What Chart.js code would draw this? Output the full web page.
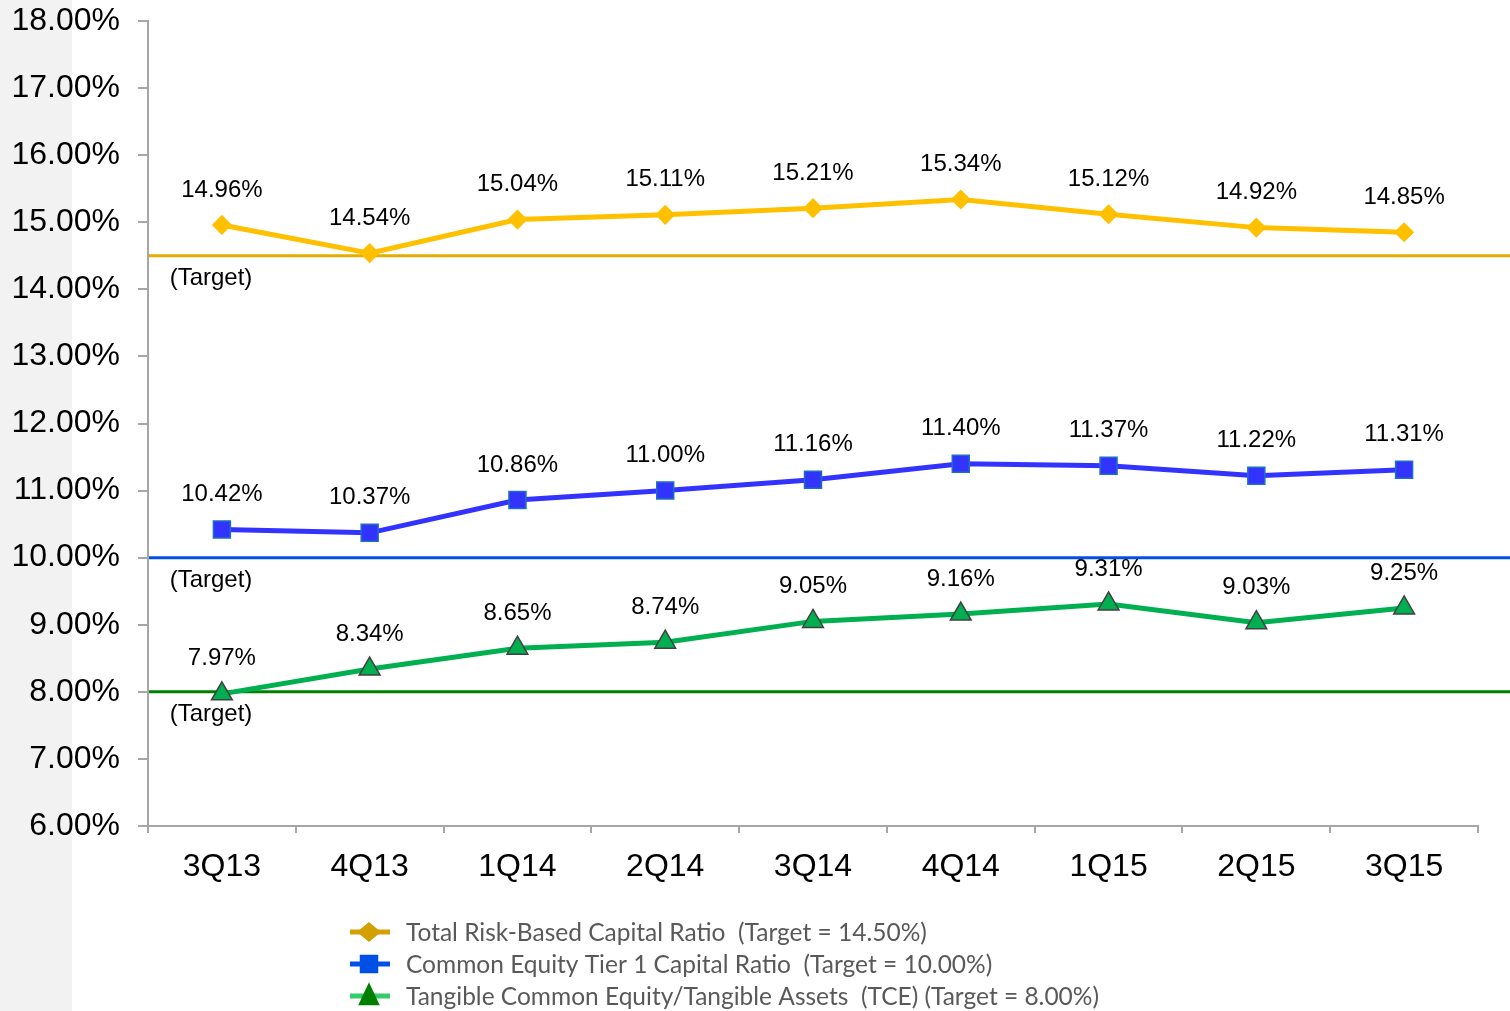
<!DOCTYPE html>
<html>
<head>
<meta charset="utf-8">
<script src="https://cdn.jsdelivr.net/npm/chart.js@4.4.1/dist/chart.umd.min.js"></script>
<style>
    html, body {
        margin: 0;
        padding: 0;
        background: linear-gradient(to right, #f2f2f2 0, #f2f2f2 72px, #ffffff 72px);
    }
    #wrap {
        width: 1510px;
        height: 1011px;
    }
</style>
</head>
<body>
<div id="wrap"><canvas id="capitalChart" width="1510" height="1011"></canvas></div>
<script>
/* ============================
   Data
============================ */
const quarters = ['3Q13', '4Q13', '1Q14', '2Q14', '3Q14', '4Q14', '1Q15', '2Q15', '3Q15'];
const totalRiskBased = [14.96, 14.54, 15.04, 15.11, 15.21, 15.34, 15.12, 14.92, 14.85];
const commonEquityTier1 = [10.42, 10.37, 10.86, 11.00, 11.16, 11.40, 11.37, 11.22, 11.31];
const tangibleCommonEquity = [7.97, 8.34, 8.65, 8.74, 9.05, 9.16, 9.31, 9.03, 9.25];
const targets = [14.50, 10.00, 8.00];
const legendLabels = [
    'Total Risk-Based Capital Ratio  (Target = 14.50%)',
    'Common Equity Tier 1 Capital Ratio  (Target = 10.00%)',
    'Tangible Common Equity/Tangible Assets  (TCE) (Target = 8.00%)'
];

/* ============================
   Colors
============================ */
const seriesColors = ['#ffc000', '#3333ff', '#00b050'];
const markerBorders = ['#ffc000', '#1f6fc0', '#404040'];
const targetColors = ['#e6ad00', '#0050e6', '#008000'];
const legendLine = ['#d4a000', '#0050e6', '#33cc66'];
const legendMarker = ['#d4a000', '#0050e6', '#008000'];
const markerStyles = ['rectRot', 'rect', 'triangle'];
const markerSizes = [9, 12, 12];
const seriesData = [totalRiskBased, commonEquityTier1, tangibleCommonEquity];

function drawMarker(ctx, style, x, y, r, fill, stroke) {
    ctx.save();
    ctx.fillStyle = fill;
    ctx.strokeStyle = stroke;
    ctx.lineWidth = 1.5;
    ctx.beginPath();
    if (style === 'rectRot') {
        ctx.moveTo(x, y - r); ctx.lineTo(x + r * 1.2, y); ctx.lineTo(x, y + r); ctx.lineTo(x - r * 1.2, y);
    } else if (style === 'rect') {
        const s = r / Math.SQRT2;
        ctx.rect(x - s, y - s, 2 * s, 2 * s);
    } else {
        ctx.moveTo(x, y - r); ctx.lineTo(x + r * 0.8, y + r * 0.7); ctx.lineTo(x - r * 0.8, y + r * 0.7);
    }
    ctx.closePath();
    ctx.fill();
    ctx.stroke();
    ctx.restore();
}

/* ============================
   Extras: targets, labels, legend
============================ */
const extrasPlugin = {
    id: 'extras',
    beforeDatasetsDraw(chart) {
        const ctx = chart.ctx;
        const y = chart.scales.y;
        ctx.save();
        targets.forEach((t, i) => {
            const py = y.getPixelForValue(t);
            ctx.strokeStyle = targetColors[i];
            ctx.lineWidth = 3;
            ctx.beginPath();
            ctx.moveTo(chart.chartArea.left + 1, py);
            ctx.lineTo(chart.width, py);
            ctx.stroke();
            ctx.fillStyle = '#000';
            ctx.font = '24px "Liberation Sans", Arial, sans-serif';
            ctx.textAlign = 'center';
            ctx.textBaseline = 'middle';
            ctx.fillText('(Target)', chart.chartArea.left + 63, py + 23);
        });
        ctx.restore();
    },
    afterDatasetsDraw(chart) {
        const ctx = chart.ctx;
        ctx.save();
        ctx.fillStyle = '#000';
        ctx.font = '24px "Liberation Sans", Arial, sans-serif';
        ctx.textAlign = 'center';
        ctx.textBaseline = 'middle';
        chart.data.datasets.forEach((ds, di) => {
            const meta = chart.getDatasetMeta(di);
            meta.data.forEach((pt, i) => {
                ctx.fillText(ds.data[i].toFixed(2) + '%', pt.x, pt.y - 35);
            });
        });

        // legend
        ctx.textAlign = 'left';
        ctx.font = '24.5px Lato, "Noto Sans", sans-serif';
        legendLabels.forEach((label, i) => {
            const ly = 932 + i * 32;
            ctx.strokeStyle = legendLine[i];
            ctx.lineWidth = 5;
            ctx.beginPath();
            ctx.moveTo(350, ly);
            ctx.lineTo(390, ly);
            ctx.stroke();
            drawMarker(ctx, markerStyles[i], 369, ly, markerSizes[i], legendMarker[i], legendMarker[i]);
            ctx.fillStyle = '#595959';
            ctx.fillText(label, 406, ly + 1);
        });
        ctx.restore();
    }
};

/* ============================
   Chart
============================ */
const capitalChartContext = document.getElementById('capitalChart').getContext('2d');

new Chart(capitalChartContext, {
    type: 'line',
    data: {
        labels: quarters,
        datasets: seriesData.map((values, i) => ({
            label: legendLabels[i],
            data: values,
            borderColor: seriesColors[i],
            backgroundColor: seriesColors[i],
            borderWidth: 5,
            pointStyle: markerStyles[i],
            pointRadius: markerSizes[i],
            pointBackgroundColor: seriesColors[i],
            pointBorderColor: markerBorders[i],
            pointBorderWidth: 1.5,
            tension: 0,
            fill: false
        }))
    },
    options: {
        responsive: false,
        animation: false,
        layout: {
            padding: { top: 21, right: 32, bottom: 125, left: 0 }
        },
        plugins: {
            legend: { display: false },
            tooltip: { enabled: false }
        },
        scales: {
            x: {
                offset: true,
                grid: {
                    offset: true,
                    drawOnChartArea: false,
                    tickLength: 7,
                    color: '#a6a6a6',
                    lineWidth: 2
                },
                border: { color: '#a6a6a6', width: 2 },
                ticks: {
                    color: '#000',
                    padding: 15,
                    font: { family: '"Liberation Sans", Arial, sans-serif', size: 32 }
                },
                afterFit: scale => { scale.height = 60; }
            },
            y: {
                min: 6,
                max: 18,
                grid: {
                    drawOnChartArea: false,
                    tickLength: 10,
                    color: '#a6a6a6',
                    lineWidth: 2
                },
                border: { color: '#a6a6a6', width: 2 },
                ticks: {
                    stepSize: 1,
                    color: '#000',
                    padding: 18,
                    font: { family: '"Liberation Sans", Arial, sans-serif', size: 32 },
                    callback: v => v.toFixed(2) + '%'
                },
                afterFit: scale => {
                    scale.width = 148;
                    scale.paddingTop = 0;
                    scale.paddingBottom = 0;
                }
            }
        }
    },
    plugins: [extrasPlugin]
});
</script>
</body>
</html>
